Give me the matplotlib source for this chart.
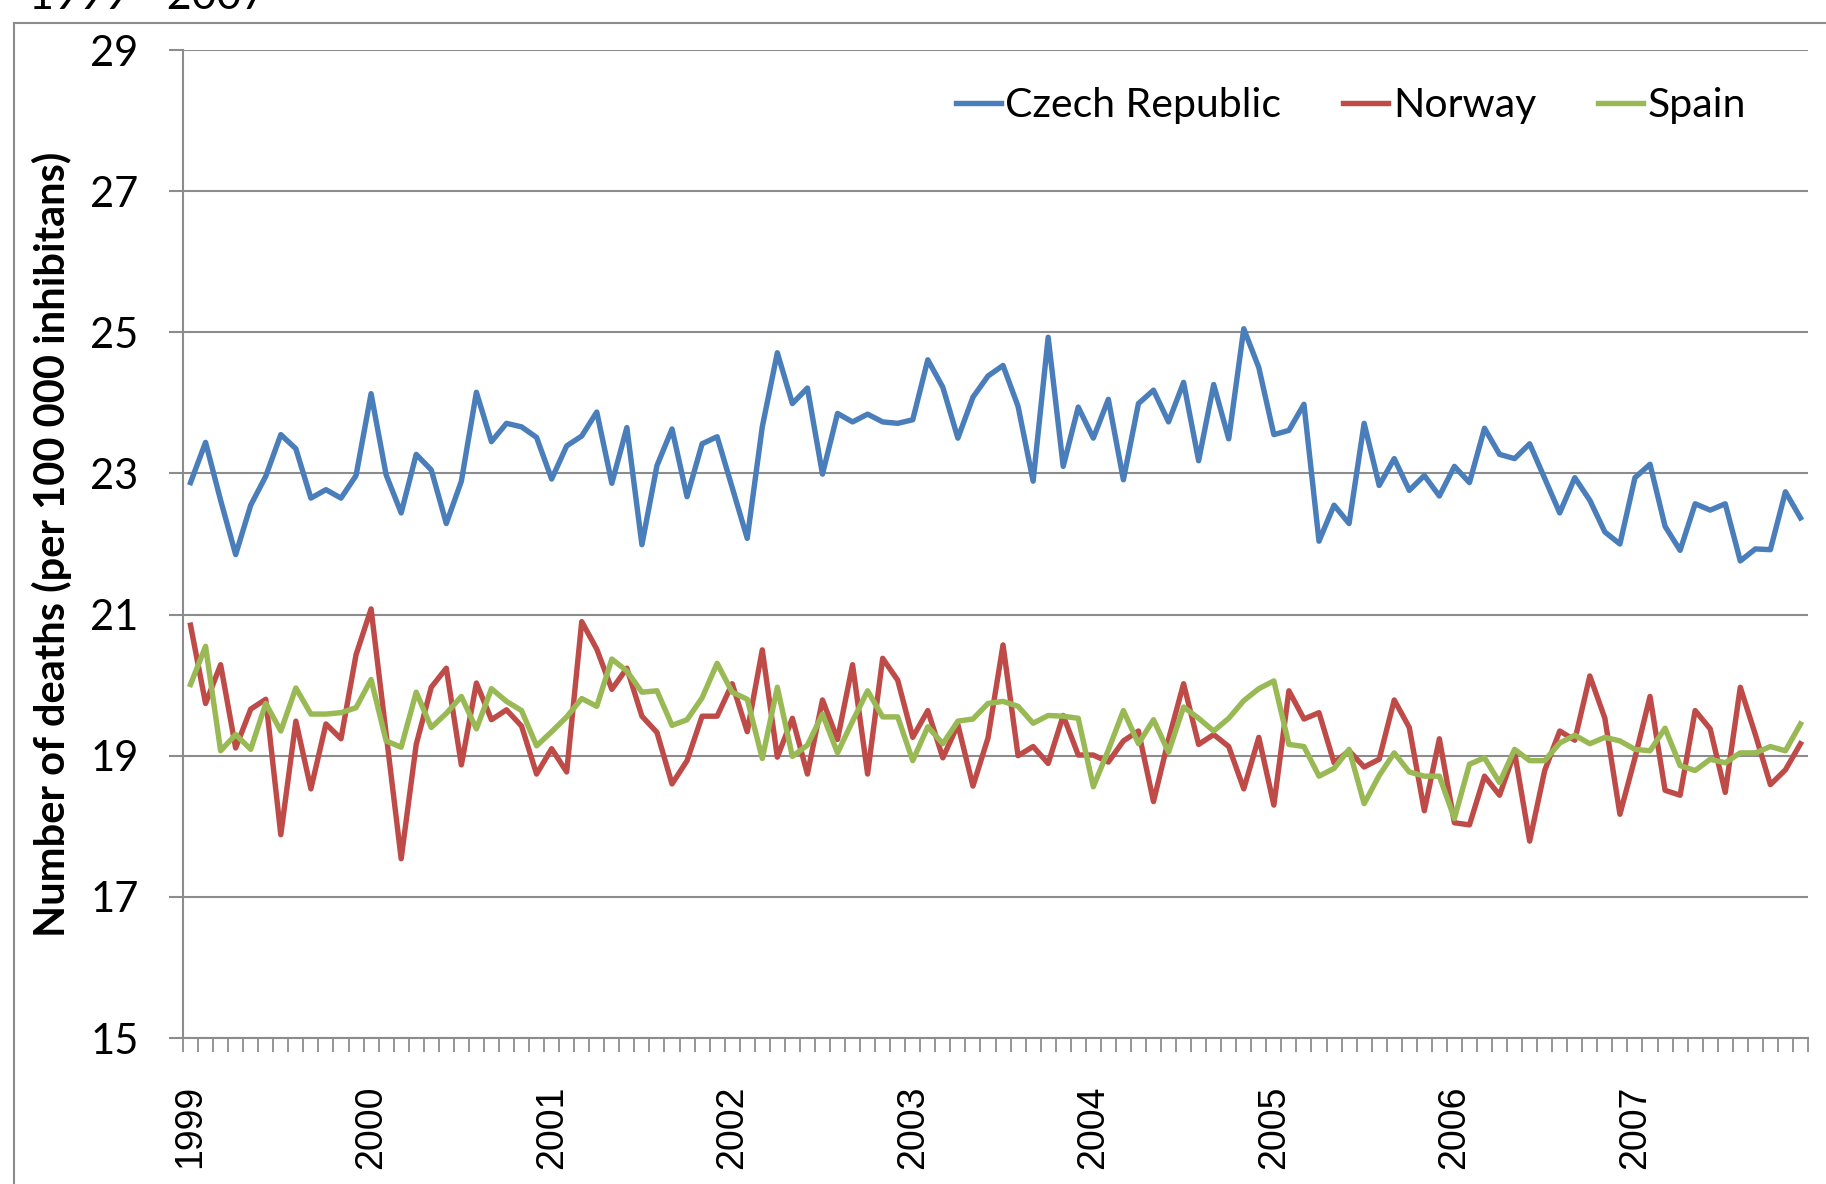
import numpy as np
import matplotlib
matplotlib.use("Agg")
import matplotlib.pyplot as plt
from matplotlib.lines import Line2D

years = [str(y) for y in range(1999, 2008)]

# monthly values, Jan 1999 .. Dec 2007
czech = [22.87, 23.44, 22.62, 21.85, 22.55, 22.96, 23.55, 23.35, 22.65, 22.77, 22.65, 22.97,
         24.13, 22.98, 22.44, 23.27, 23.05, 22.29, 22.89, 24.15, 23.45, 23.71, 23.66, 23.51,
         22.92, 23.39, 23.53, 23.87, 22.86, 23.65, 21.99, 23.11, 23.63, 22.67, 23.42, 23.52,
         22.80, 22.08, 23.66, 24.71, 23.99, 24.21, 22.99, 23.85, 23.73, 23.84, 23.73, 23.71,
         23.76, 24.61, 24.22, 23.50, 24.08, 24.38, 24.53, 23.95, 22.89, 24.93, 23.10, 23.94,
         23.50, 24.05, 22.91, 23.99, 24.18, 23.73, 24.29, 23.18, 24.26, 23.49, 25.05, 24.50,
         23.55, 23.61, 23.98, 22.04, 22.55, 22.29, 23.71, 22.83, 23.21, 22.76, 22.97, 22.68,
         23.10, 22.87, 23.64, 23.27, 23.21, 23.42, 22.93, 22.44, 22.94, 22.62, 22.17, 22.00,
         22.94, 23.13, 22.25, 21.91, 22.57, 22.48, 22.57, 21.76, 21.93, 21.92, 22.74, 22.37]

norway = [20.85, 19.74, 20.29, 19.11, 19.66, 19.80, 17.88, 19.49, 18.53, 19.45, 19.24, 20.43,
          21.08, 19.31, 17.54, 19.16, 19.97, 20.24, 18.87, 20.03, 19.51, 19.65, 19.42, 18.74,
          19.10, 18.77, 20.90, 20.51, 19.94, 20.24, 19.56, 19.33, 18.60, 18.93, 19.56, 19.56,
          20.02, 19.34, 20.50, 18.98, 19.53, 18.74, 19.79, 19.23, 20.29, 18.74, 20.38, 20.07,
          19.26, 19.64, 18.97, 19.44, 18.57, 19.25, 20.57, 19.00, 19.13, 18.89, 19.57, 19.01,
          19.01, 18.91, 19.21, 19.35, 18.35, 19.23, 20.02, 19.16, 19.30, 19.13, 18.53, 19.26,
          18.30, 19.92, 19.52, 19.61, 18.90, 19.07, 18.84, 18.95, 19.79, 19.40, 18.22, 19.24,
          18.05, 18.02, 18.71, 18.44, 19.05, 17.79, 18.79, 19.35, 19.22, 20.13, 19.53, 18.17,
          18.97, 19.84, 18.51, 18.44, 19.64, 19.38, 18.48, 19.97, 19.30, 18.59, 18.80, 19.17]

spain = [20.01, 20.55, 19.07, 19.30, 19.09, 19.74, 19.35, 19.96, 19.59, 19.59, 19.61, 19.68,
         20.08, 19.21, 19.12, 19.90, 19.40, 19.60, 19.84, 19.38, 19.95, 19.77, 19.64, 19.14,
         19.34, 19.55, 19.81, 19.70, 20.37, 20.20, 19.90, 19.92, 19.43, 19.51, 19.82, 20.31,
         19.90, 19.80, 18.96, 19.97, 18.99, 19.15, 19.59, 19.04, 19.49, 19.92, 19.55, 19.55,
         18.93, 19.41, 19.17, 19.49, 19.52, 19.74, 19.77, 19.70, 19.46, 19.57, 19.56, 19.53,
         18.56, 19.08, 19.64, 19.17, 19.51, 19.05, 19.69, 19.53, 19.35, 19.53, 19.78, 19.95,
         20.06, 19.16, 19.13, 18.71, 18.82, 19.09, 18.32, 18.72, 19.04, 18.77, 18.71, 18.71,
         18.11, 18.88, 18.97, 18.62, 19.09, 18.93, 18.93, 19.18, 19.29, 19.17, 19.26, 19.21,
         19.09, 19.07, 19.39, 18.86, 18.79, 18.95, 18.90, 19.04, 19.04, 19.13, 19.07, 19.45]

W, H = 1826, 1184
grey = "#8c8c8c"
x = np.arange(len(czech))

fig = plt.figure(figsize=(W / 100, H / 100), dpi=100)
ax = fig.add_axes([183 / W, 1 - 1038 / H, (1808 - 183) / W, (1038 - 50) / H])

ax.plot(x, czech, color="#4A7EBB", lw=3.9, label="Czech Republic")
ax.plot(x, norway, color="#BE4B48", lw=3.9, label="Norway")
ax.plot(x, spain, color="#98B954", lw=3.9, label="Spain")

ax.set_xlim(-0.5, len(x) - 0.5)
ax.set_ylim(15, 29)
ax.set_yticks(np.arange(15, 30, 2))
ax.yaxis.grid(True, color=grey, lw=1.5)
ax.set_axisbelow(True)

ax.set_xticks(np.arange(0, len(x), 12))
ax.set_xticklabels(years, rotation=90, fontsize=27, family="Liberation Sans")
ax.set_xticks(np.arange(-0.5, len(x), 1), minor=True)
ax.tick_params(axis="x", which="major", length=0, pad=34)
ax.tick_params(axis="x", which="minor", length=10, width=1.3, color=grey)
ax.tick_params(axis="y", length=10, width=1.5, color=grey, pad=22, labelsize=30)
for lab in ax.get_yticklabels():
    lab.set_family("Lato")

for s in ["top", "right"]:
    ax.spines[s].set_visible(False)
for s in ["left", "bottom"]:
    ax.spines[s].set_color(grey)
    ax.spines[s].set_linewidth(1.5)

ax.set_ylabel("Number of deaths (per 100 000 inhibitans)", fontsize=30,
              fontweight="bold", family="Lato")
ax.yaxis.set_label_coords((72 - 183) / (1808 - 183), 0.5)

ax.legend(loc="center right", bbox_to_anchor=(1746 / W, 1 - 106 / H),
          bbox_transform=fig.transFigure, ncol=3, frameon=False,
          prop={"family": "Lato", "size": 29.5}, handlelength=1.1,
          handletextpad=0.12, columnspacing=1.5, borderpad=0, borderaxespad=0)

# chart area border (cut off by the screenshot)
fig.add_artist(Line2D([14 / W, 14 / W], [0, 1 - 23 / H], color=grey, lw=1.5,
                      transform=fig.transFigure))
fig.add_artist(Line2D([14 / W, 1], [1 - 23 / H, 1 - 23 / H], color=grey, lw=1.5,
                      transform=fig.transFigure))
fig.text(29 / W, 1 - 9 / H, "1999 - 2007", fontsize=31, family="Lato", va="baseline")

fig.savefig("out.png", dpi=100)
